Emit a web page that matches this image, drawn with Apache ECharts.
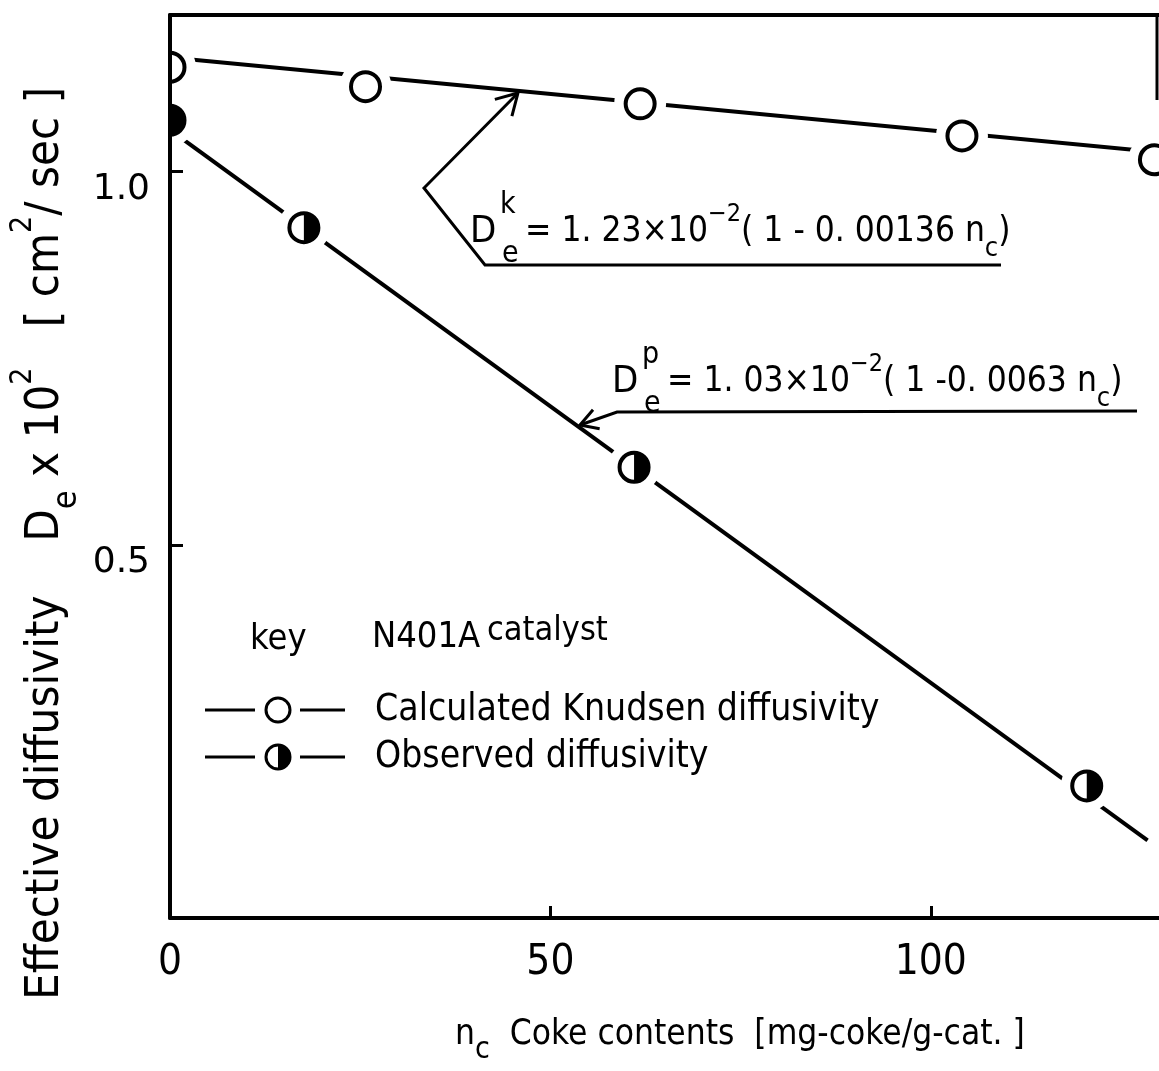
<!DOCTYPE html>
<html><head><meta charset="utf-8">
<script src="https://cdn.jsdelivr.net/npm/echarts@6/dist/echarts.min.js"></script>
<style>html,body{margin:0;padding:0;background:#fff}#c{width:1159px;height:1071px}</style>
</head><body><div id="c"></div>
<script>
// ---- data ----
const knudsenX = [0, 25.7, 61.8, 104.1, 129.4];
const knudsenY = [1.140, 1.114, 1.091, 1.048, 1.016];
const observedX = [0, 17.6, 61.0, 120.5];
const observedY = [1.069, 0.925, 0.604, 0.177];
const knudsenFitX = [0, 130];
const knudsenFitY = [1.153, 1.026];
const observedFitX = [0, 128.5];
const observedFitY = [1.056, 0.104];
const xTickValues = [0, 50, 100];
const yTickValues = [0.5, 1.0];

const FONT = '"DejaVu Sans Condensed", "DejaVu Sans", sans-serif';
const NARROW = '"Liberation Sans Narrow", "DejaVu Sans Condensed", sans-serif';
const pairs = (xs, ys) => xs.map((x, i) => [x, ys[i]]);

// circle / sector limited to the part right of the plot's left edge
function clippedDisc(cx, cy, r, left, style, z2) {
  const k = (left - cx) / r;
  if (k <= -1) return {type: 'circle', z2: z2, shape: {cx: cx, cy: cy, r: r}, style: style};
  const a = Math.acos(Math.max(-1, Math.min(1, k)));
  return {type: 'sector', z2: z2, shape: {cx: cx, cy: cy, r0: 0, r: r, startAngle: -a, endAngle: a, clockwise: true}, style: style};
}
function clippedArc(cx, cy, r, left, style, z2) {
  const k = (left - cx) / r;
  const a = k <= -1 ? Math.PI : Math.acos(Math.max(-1, Math.min(1, k)));
  return {type: 'arc', z2: z2, shape: {cx: cx, cy: cy, r: r, startAngle: -a, endAngle: a, clockwise: true}, style: style};
}

function marker(kind) {
  return function (params, api) {
    const p = api.coord([api.value(0), api.value(1)]);
    const left = params.coordSys.x;
    const r = 14.5;
    const ch = [
      clippedDisc(p[0], p[1], 26, left, {fill: '#fff'}, 1),
      clippedDisc(p[0], p[1], r, left, {fill: '#fff'}, 2),
      clippedArc(p[0], p[1], r, left, {stroke: '#000', lineWidth: 4, fill: null}, 4)
    ];
    if (kind === 'half') {
      ch.push({type: 'sector', z2: 3, shape: {cx: p[0], cy: p[1], r0: 0, r: r + 1, startAngle: -Math.PI / 2, endAngle: Math.PI / 2, clockwise: true}, style: {fill: '#000'}});
    }
    return {type: 'group', children: ch};
  };
}

const chart = echarts.init(document.getElementById('c'), null, {renderer: 'canvas'});

const axisLineStyle = {color: '#000', width: 4};
const option = {
  backgroundColor: '#fff',
  animation: false,
  grid: {left: 170, top: 15, width: 989, height: 903, containLabel: false},
  xAxis: [{
    type: 'value', min: 0, max: 130, interval: 50, z: 10,
    axisLine: {show: true, lineStyle: axisLineStyle},
    axisTick: {show: true, inside: true, length: 12, lineStyle: {color: '#000', width: 3}, customValues: [50, 100]},
    axisLabel: {show: true, margin: 24, color: '#000', fontFamily: NARROW, fontSize: 42,
      customValues: xTickValues, formatter: v => xTickValues.indexOf(v) >= 0 ? String(v) : ''},
    splitLine: {show: false}
  }, {
    type: 'value', position: 'top', min: 0, max: 130, z: 10,
    axisLine: {show: true, onZero: false, lineStyle: axisLineStyle},
    axisTick: {show: false}, axisLabel: {show: false}, splitLine: {show: false}
  }],
  yAxis: {
    type: 'value', min: 0, max: 1.21, interval: 0.5, z: 10,
    axisLine: {show: true, lineStyle: axisLineStyle},
    axisTick: {show: true, inside: true, length: 13, lineStyle: {color: '#000', width: 3}, customValues: yTickValues},
    axisLabel: {show: true, margin: 20, color: '#000', fontFamily: '"DejaVu Sans", sans-serif', fontSize: 36,
      verticalAlign: 'top',
      customValues: yTickValues, formatter: v => yTickValues.some(t => Math.abs(t - v) < 1e-9) ? v.toFixed(1) : ''},
    splitLine: {show: false}
  },
  series: [
    {type: 'line', name: 'Knudsen fit', data: pairs(knudsenFitX, knudsenFitY), symbol: 'none', clip: true,
      lineStyle: {color: '#000', width: 4}, z: 2},
    {type: 'line', name: 'Observed fit', data: pairs(observedFitX, observedFitY), symbol: 'none', clip: true,
      lineStyle: {color: '#000', width: 4}, z: 2},
    {type: 'custom', name: 'Calculated Knudsen diffusivity', data: pairs(knudsenX, knudsenY), renderItem: marker('open'), z: 3},
    {type: 'custom', name: 'Observed diffusivity', data: pairs(observedX, observedY), renderItem: marker('half'), z: 3}
  ]
};
chart.setOption(option);

// ---- annotations, legend, axis titles ----
const txt = (x, y, text, size, family) => ({
  type: 'text', x: x, y: y, z: 20,
  style: {text: text, fill: '#000', font: size + 'px ' + (family || FONT), align: 'left', verticalAlign: 'middle'}
});
const line = (pts, w) => ({type: 'polyline', z: 20, shape: {points: pts}, style: {stroke: '#000', lineWidth: w || 3, fill: null}});

function arrowHead(tip, from, len) {
  const dx = from[0] - tip[0], dy = from[1] - tip[1];
  const d = Math.hypot(dx, dy), ux = dx / d, uy = dy / d;
  const rot = a => [tip[0] + len * (ux * Math.cos(a) - uy * Math.sin(a)), tip[1] + len * (ux * Math.sin(a) + uy * Math.cos(a))];
  return line([rot(Math.PI / 6), tip, rot(-Math.PI / 6)], 3);
}

const richBase = {
  m: {fontFamily: FONT, fontSize: 35, lineHeight: 60, verticalAlign: 'middle'},
  sup: {fontFamily: FONT, fontSize: 25, lineHeight: 24, verticalAlign: 'top'},
  sub: {fontFamily: FONT, fontSize: 27, lineHeight: 24, verticalAlign: 'bottom'}
};
const richTxt = (x, y, text, rich, rotation) => ({
  type: 'text', x: x, y: y, z: 20, rotation: rotation || 0,
  style: {text: text, rich: rich, fill: '#000', align: 'left', verticalAlign: 'middle'}
});

const eq1 = [470, 232];
const eq2 = [612, 382];
const g = [];
// equation 1 (Knudsen)
g.push(txt(eq1[0], eq1[1], 'D', 38));
g.push(txt(eq1[0] + 30, eq1[1] - 27, 'k', 30));
g.push(txt(eq1[0] + 32, eq1[1] + 22, 'e', 30));
g.push(richTxt(eq1[0] + 55, eq1[1], '{m|= 1. 23×10}{sup|−2}{m|( 1 - 0. 00136 n}{sub|c}{m|)}', richBase));
g.push(line([[1001, 265], [485, 265], [424, 188], [518, 93]], 3));
g.push(arrowHead([518, 93], [424, 188], 24));
// equation 2 (observed)
g.push(txt(eq2[0], eq2[1], 'D', 38));
g.push(txt(eq2[0] + 30, eq2[1] - 27, 'p', 30));
g.push(txt(eq2[0] + 32, eq2[1] + 22, 'e', 30));
g.push(richTxt(eq2[0] + 55, eq2[1], '{m|= 1. 03×10}{sup|−2}{m|( 1 -0. 0063 n}{sub|c}{m|)}', richBase));
g.push(line([[1137, 411], [617, 412], [580, 425]], 3));
g.push(arrowHead([580, 425], [617, 412], 20));

// frame remnant on the right
g.push(line([[1157, 15], [1157, 100]], 3));

// key / legend
g.push(txt(250, 640, 'key', 36));
g.push(txt(372, 638, 'N401A', 36));
g.push(txt(487, 631, 'catalyst', 34));
const legRows = [[710, 'open', 'Calculated Knudsen diffusivity'], [757, 'half', 'Observed diffusivity']];
legRows.forEach(([y, kind, label]) => {
  g.push(line([[205, y], [255, y]], 3));
  g.push(line([[300, y], [345, y]], 3));
  g.push({type: 'circle', z: 20, shape: {cx: 278, cy: y, r: 12}, style: {fill: '#fff', stroke: '#000', lineWidth: 3}});
  if (kind === 'half') g.push({type: 'sector', z: 21, shape: {cx: 278, cy: y, r0: 0, r: 13, startAngle: -Math.PI / 2, endAngle: Math.PI / 2, clockwise: true}, style: {fill: '#000'}});
  g.push(txt(375, y, label, 37));
});

// axis titles
g.push(richTxt(455, 1035, '{m|n}{sub|c}{m|  Coke contents  [mg-coke/g-cat. ]}', {
  m: {fontFamily: FONT, fontSize: 35, lineHeight: 60, verticalAlign: 'middle'},
  sub: {fontFamily: FONT, fontSize: 30, lineHeight: 28, verticalAlign: 'bottom'}
}));
g.push(richTxt(46, 1000, '{m|Effective diffusivity    D}{sub|e}{m| x 10}{sup|2}{m|   [ cm}{sup|2}{m|/ sec ]}', {
  m: {fontFamily: FONT, fontSize: 47, lineHeight: 76, verticalAlign: 'middle'},
  sup: {fontFamily: FONT, fontSize: 30, lineHeight: 30, verticalAlign: 'top'},
  sub: {fontFamily: FONT, fontSize: 34, lineHeight: 32, verticalAlign: 'bottom'}
}, Math.PI / 2));

chart.setOption({graphic: {elements: g}});
</script>
</body></html>
